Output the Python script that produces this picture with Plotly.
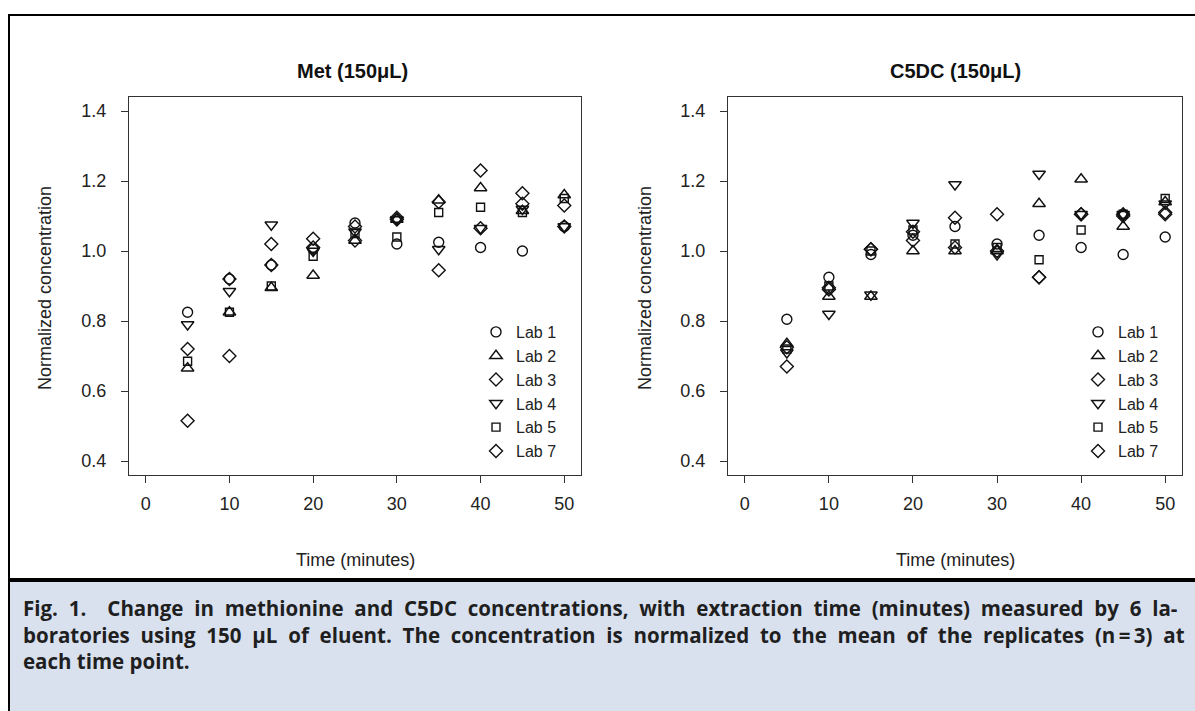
import plotly.graph_objects as go

W, H = 1195, 711

time_min = [5, 10, 15, 20, 25, 30, 35, 40, 45, 50]
labs = ["Lab 1", "Lab 2", "Lab 3", "Lab 4", "Lab 5", "Lab 7"]

met_lab1 = [0.825, 0.92, 0.96, 1.005, 1.08, 1.02, 1.025, 1.01, 1.0, 1.07]
met_lab2 = [0.665, 0.825, 0.895, 0.93, 1.03, 1.09, 1.145, 1.18, 1.115, 1.16]
met_lab3 = [0.72, 0.92, 1.02, 1.035, 1.07, 1.09, 1.14, 1.23, 1.165, 1.13]
met_lab4 = [0.79, 0.885, 1.075, 1.0, 1.055, 1.09, 1.005, 1.065, 1.12, 1.07]
met_lab5 = [0.685, 0.825, 0.90, 0.985, 1.05, 1.04, 1.11, 1.125, 1.11, 1.15]
met_lab7 = [0.515, 0.70, 0.96, 1.01, 1.03, 1.095, 0.945, 1.065, 1.135, 1.07]

c5dc_lab1 = [0.805, 0.925, 0.99, 1.045, 1.07, 1.02, 1.045, 1.01, 0.99, 1.04]
c5dc_lab2 = [0.735, 0.87, 0.87, 1.0, 1.0, 1.0, 1.135, 1.205, 1.07, 1.14]
c5dc_lab3 = [0.725, 0.895, 1.005, 1.03, 1.095, 1.105, 0.925, 1.105, 1.105, 1.105]
c5dc_lab4 = [0.71, 0.82, 0.875, 1.08, 1.19, 0.99, 1.22, 1.105, 1.105, 1.135]
c5dc_lab5 = [0.72, 0.90, 1.0, 1.06, 1.02, 1.01, 0.975, 1.06, 1.105, 1.15]
c5dc_lab7 = [0.67, 0.89, 1.005, 1.055, 1.01, 1.0, 0.925, 1.105, 1.10, 1.11]

met_series = [met_lab1, met_lab2, met_lab3, met_lab4, met_lab5, met_lab7]
c5dc_series = [c5dc_lab1, c5dc_lab2, c5dc_lab3, c5dc_lab4, c5dc_lab5, c5dc_lab7]

x_ticks = [0, 10, 20, 30, 40, 50]
y_ticks = [0.4, 0.6, 0.8, 1.0, 1.2, 1.4]
y_tick_text = ["0.4", "0.6", "0.8", "1.0", "1.2", "1.4"]

panel_titles = ["Met (150\u03bcL)", "C5DC (150\u03bcL)"]
caption_words = [
    ["Fig.", "1.\u2002", "Change", "in", "methionine", "and", "C5DC", "concentrations,", "with", "extraction",
     "time", "(minutes)", "measured", "by", "6", "la-"],
    ["boratories", "using", "150", "\u03bcL", "of", "eluent.", "The", "concentration", "is", "normalized", "to",
     "the", "mean", "of", "the", "replicates", "(n\u2009=\u20093)", "at"],
    ["each", "time", "point."],
]
caption_gaps = [" \u2009\u200a", " \u2009\u200a", " "]

symbols = ["circle-open", "triangle-up-open", "diamond-open", "triangle-down-open", "square-open", "diamond-open"]
sizes = [10, 11, 10, 11, 8, 10]

def px(x):
    return x / W

def py(y):
    return 1 - y / H

fig = go.Figure()

for panel, (series, xa, ya, lg) in enumerate([
    (met_series, "x", "y", "legend"),
    (c5dc_series, "x2", "y2", "legend2"),
]):
    for i, lab in enumerate(labs):
        fig.add_trace(go.Scatter(
            x=time_min, y=series[i], mode="markers", name=lab,
            xaxis=xa, yaxis=ya, legend=lg, legendgroup=f"{lg}{i}",
            marker=dict(symbol=symbols[i], size=sizes[i], color="#111",
                        line=dict(width=1.4, color="#111")),
        ))

FONT = "Liberation Sans, Arial, sans-serif"
axis_font = dict(family=FONT, size=18, color="#222")

def xaxis(domain):
    return dict(domain=domain, range=[-2, 52], tickvals=x_ticks, ticks="outside",
                ticklen=7, tickwidth=1, tickcolor="#333", showgrid=False, zeroline=False,
                showline=True, linecolor="#333", linewidth=1.2, mirror=True,
                tickfont=axis_font, ticklabelstandoff=5)

def yaxis(domain):
    return dict(domain=domain, range=[0.36, 1.44], tickvals=y_ticks, ticktext=y_tick_text,
                ticks="outside", ticklen=7, tickwidth=1, tickcolor="#333", showgrid=False,
                zeroline=False, showline=True, linecolor="#333", linewidth=1.2, mirror=True,
                tickfont=axis_font, ticklabelstandoff=11)

ydom = [py(475), py(97)]
legend_common = dict(xanchor="left", yanchor="top", bgcolor="rgba(0,0,0,0)", borderwidth=0,
                     itemwidth=30, tracegroupgap=0,
                     font=dict(family=FONT, size=16, color="#222"))
fig.update_layout(
    width=W, height=H, margin=dict(l=0, r=0, t=0, b=0),
    paper_bgcolor="white", plot_bgcolor="white",
    xaxis=dict(xaxis([px(129), px(581)]), anchor="y"),
    yaxis=dict(yaxis(ydom), anchor="x"),
    xaxis2=dict(xaxis([px(728), px(1182)]), anchor="y2"),
    yaxis2=dict(yaxis(ydom), anchor="x2"),
    showlegend=True,
    legend=dict(legend_common, x=px(476), y=py(315)),
    legend2=dict(legend_common, x=px(1078), y=py(315)),
)

annotations = []
for cx, title in zip([352, 955], panel_titles):
    annotations.append(dict(x=px(cx), y=py(71), xref="paper", yref="paper", text=f"<b>{title}</b>",
                            showarrow=False, xanchor="center", yanchor="middle",
                            font=dict(family=FONT, size=20, color="#111")))
for cx in [355, 955]:
    annotations.append(dict(x=px(cx), y=py(560), xref="paper", yref="paper", text="Time (minutes)",
                            showarrow=False, xanchor="center", yanchor="middle", font=axis_font))
for cx in [45, 645]:
    annotations.append(dict(x=px(cx), y=py(288), xref="paper", yref="paper", text="Normalized concentration",
                            showarrow=False, xanchor="center", yanchor="middle", textangle=-90, font=axis_font))
for k, (words, gap) in enumerate(zip(caption_words, caption_gaps)):
    line = gap.join(words)
    annotations.append(dict(x=px(21), y=py(608 + 26.5 * k), xref="paper", yref="paper", text=f"<b>{line}</b>",
                            showarrow=False, xanchor="left", yanchor="middle",
                            font=dict(family="Open Sans, sans-serif", size=20.5, color="#1f1f1f")))
fig.update_layout(annotations=annotations)

shapes = [
    dict(type="rect", xref="paper", yref="paper", x0=px(9), x1=px(1200), y0=py(711), y1=py(582),
         fillcolor="#d9e1ef", line=dict(width=0), layer="below"),
    dict(type="line", xref="paper", yref="paper", x0=px(8), x1=px(1200), y0=py(15), y1=py(15),
         line=dict(color="black", width=2)),
    dict(type="line", xref="paper", yref="paper", x0=px(9), x1=px(9), y0=py(14), y1=py(711),
         line=dict(color="black", width=2)),
    dict(type="line", xref="paper", yref="paper", x0=px(8), x1=px(1200), y0=py(580), y1=py(580),
         line=dict(color="black", width=4)),
]
fig.update_layout(shapes=shapes)

fig.write_html("out.html", config={"displayModeBar": False},
               post_script="document.body.style.margin='0px';")
